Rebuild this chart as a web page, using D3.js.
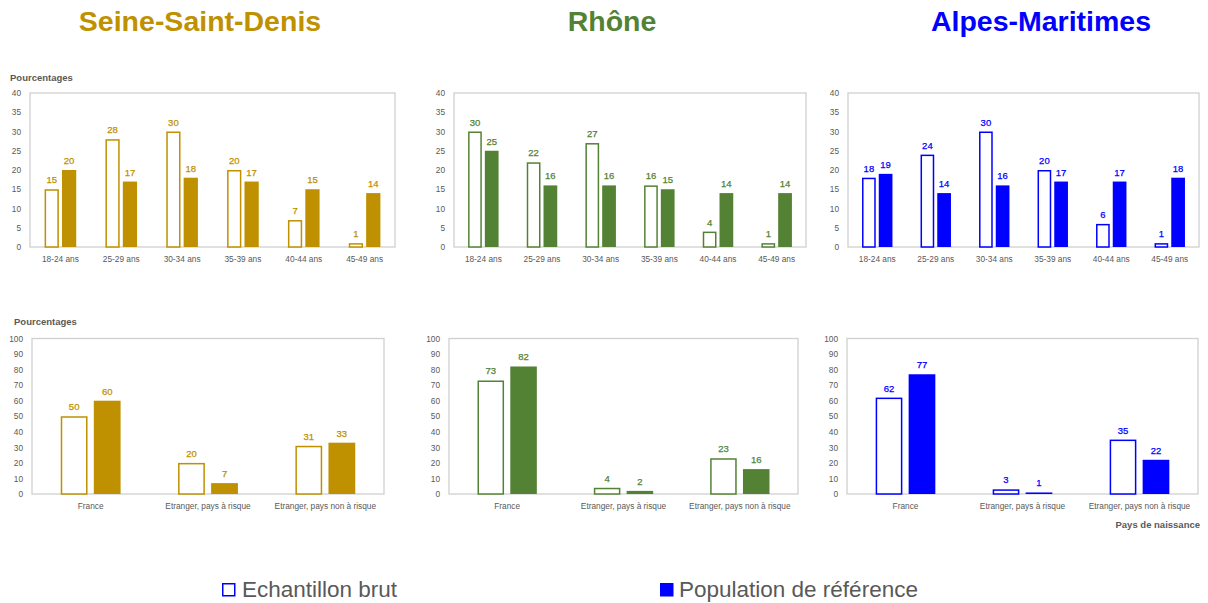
<!DOCTYPE html>
<html>
<head>
<meta charset="utf-8">
<script src="https://cdn.jsdelivr.net/npm/d3@7"></script>
<style>
  body { margin: 0; background: #ffffff; }
  svg { display: block; font-family: "Liberation Sans", Arial, sans-serif; }
</style>
</head>
<body>
<svg id="chart" width="1208" height="603"></svg>
<script>
// ---- Data ----
const departments = ["Seine-Saint-Denis", "Rhône", "Alpes-Maritimes"];
const deptColors = ["#bf9000", "#548235", "#0000ff"];
const seriesNames = ["Echantillon brut", "Population de référence"];

const ageGroups = ["18-24 ans", "25-29 ans", "30-34 ans", "35-39 ans", "40-44 ans", "45-49 ans"];
const ageTicks = [0, 5, 10, 15, 20, 25, 30, 35, 40];

const ageBrutSeineSaintDenis = [15, 28, 30, 20, 7, 1];
const ageRefSeineSaintDenis  = [20, 17, 18, 17, 15, 14];
const ageBrutRhone = [30, 22, 27, 16, 4, 1];
const ageRefRhone  = [25, 16, 16, 15, 14, 14];
const ageBrutAlpesMaritimes = [18, 24, 30, 20, 6, 1];
const ageRefAlpesMaritimes  = [19, 14, 16, 17, 17, 18];

const birthGroups = ["France", "Etranger, pays à risque", "Etranger, pays non à risque"];
const birthTicks = [0, 10, 20, 30, 40, 50, 60, 70, 80, 90, 100];

const birthBrutSeineSaintDenis = [50, 20, 31];
const birthRefSeineSaintDenis  = [60, 7, 33];
const birthBrutRhone = [73, 4, 23];
const birthRefRhone  = [82, 2, 16];
const birthBrutAlpesMaritimes = [62, 3, 35];
const birthRefAlpesMaritimes  = [77, 1, 22];

// ---- Layout ----
const svg = d3.select("#chart");
const textGray = "#595959";
const frameGray = "#d0d0d0";

const titleCenters = [200, 612, 1041];

const ageFrames = [
  { x0: 30,  x1: 395,  y0: 93, y1: 247 },
  { x0: 454, x1: 806,  y0: 93, y1: 247 },
  { x0: 848, x1: 1199, y0: 93, y1: 247 }
];
const birthFrames = [
  { x0: 32,  x1: 384,  y0: 338.5, y1: 494 },
  { x0: 449, x1: 798,  y0: 338.5, y1: 494 },
  { x0: 847, x1: 1198, y0: 338.5, y1: 494 }
];

const ageData = [
  [ageBrutSeineSaintDenis, ageRefSeineSaintDenis],
  [ageBrutRhone, ageRefRhone],
  [ageBrutAlpesMaritimes, ageRefAlpesMaritimes]
];
const birthData = [
  [birthBrutSeineSaintDenis, birthRefSeineSaintDenis],
  [birthBrutRhone, birthRefRhone],
  [birthBrutAlpesMaritimes, birthRefAlpesMaritimes]
];

// Department titles
svg.selectAll("text.dept-title")
  .data(departments)
  .join("text")
  .attr("class", "dept-title")
  .attr("x", (d, i) => titleCenters[i])
  .attr("y", 31)
  .attr("text-anchor", "middle")
  .attr("font-size", 28.5)
  .attr("font-weight", "bold")
  .attr("fill", (d, i) => deptColors[i])
  .text(d => d);

// One clustered bar panel
function drawPanel(frame, categories, brut, ref, color, ticks, groupPad, pairPad) {
  const g = svg.append("g");
  const yMax = ticks[ticks.length - 1];

  const x = d3.scaleBand()
    .domain(categories)
    .range([frame.x0, frame.x1])
    .paddingInner(groupPad)
    .paddingOuter(groupPad / 2);

  const xs = d3.scaleBand()
    .domain(seriesNames)
    .range([0, x.bandwidth()])
    .paddingInner(pairPad);

  const y = d3.scaleLinear()
    .domain([0, yMax])
    .range([frame.y1, frame.y0]);

  // plot frame
  g.append("rect")
    .attr("x", frame.x0)
    .attr("y", frame.y0)
    .attr("width", frame.x1 - frame.x0)
    .attr("height", frame.y1 - frame.y0)
    .attr("fill", "none")
    .attr("stroke", frameGray)
    .attr("stroke-width", 1.3);

  // y axis labels
  const yAxis = g.append("g")
    .attr("transform", `translate(${frame.x0},0)`)
    .call(d3.axisLeft(y).tickValues(ticks).tickSize(0).tickPadding(9));
  yAxis.select(".domain").remove();
  yAxis.selectAll("text")
    .attr("fill", textGray)
    .attr("font-size", 8.3)
    .attr("font-family", "Liberation Sans, Arial, sans-serif");

  // category labels
  const xAxis = g.append("g")
    .attr("transform", `translate(0,${frame.y1})`)
    .call(d3.axisBottom(x).tickSize(0).tickPadding(9));
  xAxis.select(".domain").remove();
  xAxis.selectAll("text")
    .attr("fill", textGray)
    .attr("font-size", 8.3)
    .attr("font-family", "Liberation Sans, Arial, sans-serif");

  const rows = categories.map((c, i) => ({ cat: c, brut: brut[i], ref: ref[i] }));
  const bw = xs.bandwidth();

  // hollow bars: raw sample
  g.selectAll("rect.brut")
    .data(rows)
    .join("rect")
    .attr("class", "brut")
    .attr("x", d => x(d.cat) + xs(seriesNames[0]) + 0.75)
    .attr("y", d => y(d.brut) + 0.75)
    .attr("width", bw - 1.5)
    .attr("height", d => Math.max(0, y(0) - y(d.brut) - 0.75))
    .attr("fill", "#ffffff")
    .attr("stroke", color)
    .attr("stroke-width", 1.5);

  // filled bars: reference population
  g.selectAll("rect.ref")
    .data(rows)
    .join("rect")
    .attr("class", "ref")
    .attr("x", d => x(d.cat) + xs(seriesNames[1]))
    .attr("y", d => y(d.ref))
    .attr("width", bw)
    .attr("height", d => y(0) - y(d.ref))
    .attr("fill", color);

  // value labels
  const labels = [];
  rows.forEach(d => {
    labels.push({ x: x(d.cat) + xs(seriesNames[0]) + bw / 2, v: d.brut });
    labels.push({ x: x(d.cat) + xs(seriesNames[1]) + bw / 2, v: d.ref });
  });
  g.selectAll("text.value")
    .data(labels)
    .join("text")
    .attr("class", "value")
    .attr("x", d => d.x)
    .attr("y", d => y(d.v) - 6)
    .attr("text-anchor", "middle")
    .attr("font-size", 9.5)
    .attr("fill", color)
    .attr("stroke", color)
    .attr("stroke-width", 0.25)
    .text(d => d3.format("d")(d.v));
}

ageFrames.forEach((f, i) =>
  drawPanel(f, ageGroups, ageData[i][0], ageData[i][1], deptColors[i], ageTicks, 0.48, 0.18));
birthFrames.forEach((f, i) =>
  drawPanel(f, birthGroups, birthData[i][0], birthData[i][1], deptColors[i], birthTicks, 0.49, 0.19));

// axis titles
svg.append("text")
  .attr("x", 10).attr("y", 81)
  .attr("font-size", 9.5).attr("font-weight", "bold").attr("fill", textGray)
  .text("Pourcentages");
svg.append("text")
  .attr("x", 14).attr("y", 325)
  .attr("font-size", 9.5).attr("font-weight", "bold").attr("fill", textGray)
  .text("Pourcentages");
svg.append("text")
  .attr("x", 1200).attr("y", 528)
  .attr("text-anchor", "end")
  .attr("font-size", 9.5).attr("font-weight", "bold").attr("fill", textGray)
  .text("Pays de naissance");

// legend
const legendColor = deptColors[2];
const legend = svg.append("g");
legend.append("rect")
  .attr("x", 222.75).attr("y", 583.75)
  .attr("width", 12).attr("height", 12)
  .attr("fill", "#ffffff").attr("stroke", legendColor).attr("stroke-width", 1.5);
legend.append("text")
  .attr("x", 242).attr("y", 597)
  .attr("font-size", 22.5).attr("fill", textGray)
  .text(seriesNames[0]);
legend.append("rect")
  .attr("x", 660).attr("y", 583)
  .attr("width", 13.5).attr("height", 13.5)
  .attr("fill", legendColor);
legend.append("text")
  .attr("x", 679).attr("y", 597)
  .attr("font-size", 22.5).attr("fill", textGray)
  .text(seriesNames[1]);
</script>
</body>
</html>
